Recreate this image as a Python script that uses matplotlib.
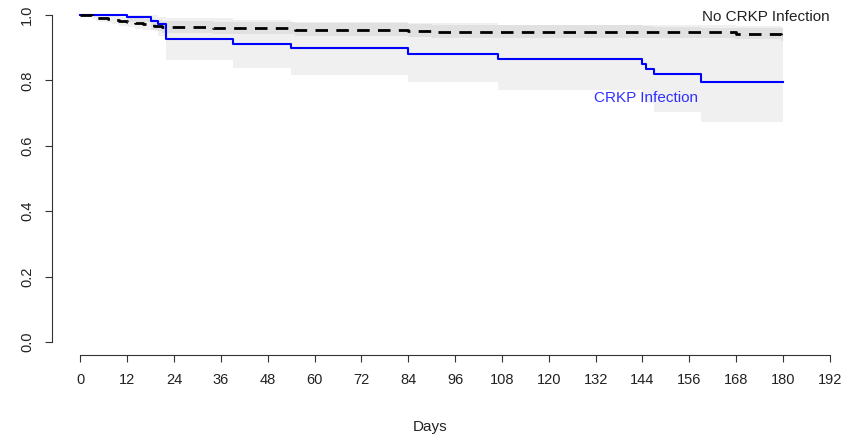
import matplotlib
matplotlib.use('Agg')
import matplotlib.pyplot as plt

plt.rcParams['font.family'] = ['Liberation Sans', 'DejaVu Sans']

# CRKP infection group (Kaplan-Meier steps)
t_crkp = [0, 12, 18, 20, 22, 39, 54, 84, 107, 144, 145, 147, 159, 180]
s_crkp = [1.0, 0.993, 0.983, 0.972, 0.926, 0.911, 0.898, 0.880, 0.865, 0.849, 0.835, 0.819, 0.796, 0.796]
lo_crkp = [1.0, 0.980, 0.955, 0.935, 0.862, 0.837, 0.817, 0.794, 0.771, 0.750, 0.730, 0.704, 0.674, 0.674]
up_crkp = [1.0, 1.0, 1.0, 0.995, 0.990, 0.985, 0.980, 0.975, 0.970, 0.968, 0.966, 0.965, 0.960, 0.960]

# No CRKP infection group
t_none = [0, 3, 4, 5, 7, 8, 10, 12, 14, 16, 19, 21, 34, 55, 84, 90, 168, 179.5, 180]
s_none = [1.0, 0.995, 0.992, 0.990, 0.987, 0.985, 0.982, 0.979, 0.975, 0.972, 0.968, 0.964,
          0.960, 0.955, 0.951, 0.947, 0.943, 0.938, 0.938]
up_none = [1.0, 1.0, 1.0, 0.999, 0.998, 0.997, 0.995, 0.993, 0.990, 0.988, 0.985, 0.982,
           0.978, 0.975, 0.972, 0.969, 0.966, 0.963, 0.963]
lo_none = [1.0, 0.988, 0.983, 0.980, 0.975, 0.972, 0.968, 0.964, 0.958, 0.955, 0.950, 0.945,
           0.941, 0.937, 0.933, 0.930, 0.926, 0.922, 0.922]

xticks = list(range(0, 193, 12))
yticks = [0.0, 0.2, 0.4, 0.6, 0.8, 1.0]

W, H = 858, 434
fig = plt.figure(figsize=(W / 100, H / 100), dpi=100)
# axes box in pixels: left 52, right 858, top 2, bottom 355
ax = fig.add_axes([52.2 / W, (H - 355) / H, (W - 52.2) / W, 353 / H])

ax.fill_between(t_crkp, lo_crkp, up_crkp, step='post', color='black', alpha=0.06, lw=0)
ax.fill_between(t_none, lo_none, up_none, step='post', color='black', alpha=0.06, lw=0)

ax.step(t_crkp, s_crkp, where='post', color='blue', lw=1.5)
ax.step(t_none, s_none, where='post', color='black', lw=2, linestyle=(0, (4.5, 3)))

ax.text(175.7, 0.994, 'No CRKP Infection', color='#222222', fontsize=11,
        ha='center', va='center')
ax.text(145.0, 0.745, 'CRKP Infection', color='#3030ff', fontsize=11,
        ha='center', va='center')

ax.set_xlim(-7.2, 199.2)
ax.set_ylim(-0.04, 1.04)
ax.set_xticks(xticks)
ax.set_yticks(yticks)
ax.set_yticklabels(['0.0', '0.2', '0.4', '0.6', '0.8', '1.0'])

for side in ['top', 'right']:
    ax.spines[side].set_visible(False)
ax.spines['left'].set_bounds(0, 1)
ax.spines['bottom'].set_bounds(0, 192)
ax.spines['left'].set_color('#333333')
ax.spines['bottom'].set_color('#333333')

ax.tick_params(axis='both', length=5, width=0.8, color='#333333', labelsize=10.5, labelcolor='#222222')
ax.tick_params(axis='x', pad=8)
ax.tick_params(axis='y', pad=8, labelrotation=90)
for lab in ax.get_yticklabels():
    lab.set_va('center')

ax.text(89.7, -0.26, 'Days', fontsize=11, color='#222222', ha='center', va='center')

fig.savefig('out.png', dpi=100)
